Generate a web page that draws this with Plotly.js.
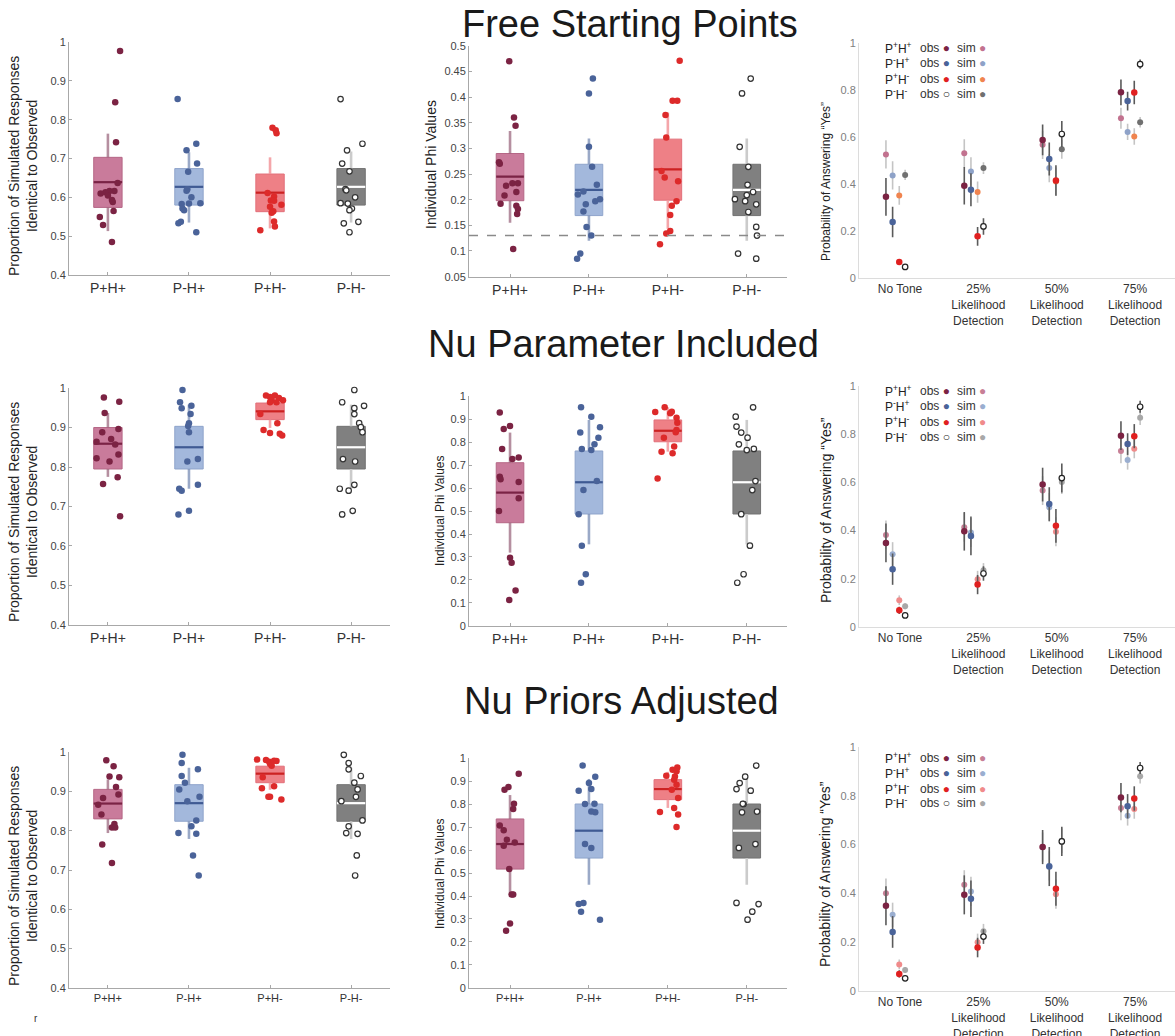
<!DOCTYPE html>
<html><head><meta charset="utf-8">
<script src="https://cdn.plot.ly/plotly-3.0.1.min.js"></script>
<style>body{margin:0;background:#fff}#chart{width:1175px;height:1036px}</style>
</head><body><div id="chart"></div>
<script>
// ---------------- DATA ----------------
const groups = ['P+H+','P-H+','P+H-','P-H-'];
const conditions = ['No Tone','25%<br>Likelihood<br>Detection','50%<br>Likelihood<br>Detection','75%<br>Likelihood<br>Detection'];
const rowTitles = ['Free Starting Points','Nu Parameter Included','Nu Priors Adjusted'];
const legendLabels = ['P<sup>+</sup>H<sup>+</sup>','P<sup>-</sup>H<sup>+</sup>','P<sup>+</sup>H<sup>-</sup>','P<sup>-</sup>H<sup>-</sup>'];
const accTitle = 'Proportion of Simulated Responses<br>Identical to Observed';
const phiTitle = 'Individual Phi Values';
const yesTitle = 'Probability of Answering \u201CYes\u201D';
const phiThreshold = 0.13;

// box stats: [lower whisker, q1, median, q3, upper whisker]
// Row 1 (Free Starting Points) - accuracy
const acc1_PpHp = [0.977,0.845,0.742,0.637,0.616,0.616,0.613,0.61,0.605,0.593,0.588,0.565,0.549,0.529,0.485];
const acc1_PpHp_jit = [0.15,0.09,0.10,0.12,0.08,0.02,-0.03,-0.09,0.0,0.05,0.06,0.07,-0.10,-0.06,0.05];
const acc1_PpHp_box = [0.513,0.574,0.639,0.703,0.764];
const acc1_PmHp = [0.853,0.738,0.721,0.687,0.666,0.621,0.617,0.6,0.585,0.584,0.583,0.571,0.567,0.537,0.533,0.51];
const acc1_PmHp_jit = [-0.14,0.09,-0.03,0.10,-0.01,-0.02,-0.03,0.03,0.14,0.0,-0.09,-0.08,-0.06,-0.10,-0.13,0.09];
const acc1_PmHp_box = [0.535,0.58,0.627,0.674,0.716];
const acc1_PpHm = [0.779,0.773,0.765,0.611,0.602,0.592,0.591,0.581,0.576,0.564,0.56,0.538,0.525,0.515];
const acc1_PpHm_jit = [0.03,0.07,0.08,-0.03,0.05,0.01,0.05,0.14,0.0,0.04,0.02,0.05,0.06,-0.12];
const acc1_PpHm_box = [0.52,0.563,0.612,0.66,0.703];
const acc1_PmHm = [0.853,0.738,0.721,0.687,0.667,0.621,0.618,0.6,0.585,0.584,0.571,0.567,0.537,0.533,0.51];
const acc1_PmHm_jit = [-0.13,0.14,-0.05,-0.11,-0.02,-0.07,-0.06,0.05,-0.13,-0.04,0.01,-0.02,0.09,-0.09,-0.02];
const acc1_PmHm_box = [0.535,0.58,0.627,0.674,0.718];

// Row 1 - phi
const phi1_PpHp = [0.47,0.36,0.344,0.273,0.27,0.227,0.232,0.232,0.215,0.208,0.192,0.188,0.182,0.172,0.104];
const phi1_PpHp_jit = [-0.01,0.05,0.07,-0.14,-0.13,-0.05,0.03,0.10,0.08,-0.07,-0.12,0.08,0.10,0.09,0.04];
const phi1_PpHp_box = [0.155,0.198,0.245,0.29,0.334];
const phi1_PmHp = [0.436,0.407,0.303,0.264,0.229,0.216,0.21,0.201,0.197,0.191,0.177,0.147,0.13,0.095,0.085];
const phi1_PmHp_jit = [0.05,0.0,0.0,0.04,0.10,-0.07,-0.14,0.14,0.08,-0.04,-0.07,-0.03,0.03,-0.11,-0.15];
const phi1_PmHp_box = [0.12,0.169,0.219,0.269,0.319];
const phi1_PpHm = [0.471,0.393,0.393,0.365,0.321,0.256,0.243,0.236,0.197,0.188,0.17,0.139,0.134,0.113];
const phi1_PpHm_jit = [0.15,0.06,0.12,-0.03,-0.02,-0.08,-0.04,0.13,0.11,0.05,0.03,0.03,-0.02,-0.10];
const phi1_PpHm_box = [0.1435,0.199,0.259,0.318,0.37];
const phi1_PmHm = [0.436,0.407,0.303,0.264,0.229,0.215,0.209,0.201,0.197,0.191,0.176,0.147,0.13,0.095,0.085];
const phi1_PmHm_jit = [0.05,-0.06,-0.09,0.02,0.01,0.08,0.0,-0.15,-0.02,0.12,0.02,0.12,0.13,-0.11,0.12];
const phi1_PmHm_box = [0.12,0.169,0.219,0.269,0.319];

// Row 2 (Nu Parameter Included) - accuracy
const acc2_PpHp = [0.976,0.965,0.937,0.888,0.896,0.864,0.871,0.857,0.832,0.822,0.814,0.774,0.757,0.675];
const acc2_PpHp_jit = [-0.05,0.14,-0.04,-0.07,0.13,-0.14,0.04,0.09,0.13,-0.14,0.02,0.12,-0.06,0.15];
const acc2_PpHp_box = [0.775,0.795,0.859,0.9,0.937];
const acc2_PmHp = [0.995,0.964,0.949,0.955,0.934,0.911,0.904,0.888,0.82,0.814,0.755,0.745,0.74,0.689,0.68];
const acc2_PmHp_jit = [-0.08,-0.11,-0.09,0.03,0.02,0.0,-0.01,0.0,0.11,-0.02,0.11,-0.12,-0.09,0.0,-0.13];
const acc2_PmHp_box = [0.745,0.795,0.85,0.903,0.958];
const acc2_PpHm = [0.981,0.981,0.977,0.975,0.969,0.969,0.964,0.964,0.934,0.911,0.894,0.886,0.884,0.88];
const acc2_PpHm_jit = [-0.05,0.06,0.0,0.11,0.02,0.16,0.08,0.0,-0.12,0.09,-0.08,0.0,0.12,0.15];
const acc2_PpHm_box = [0.899,0.92,0.941,0.962,0.981];
const acc2_PmHm = [0.995,0.964,0.949,0.955,0.934,0.911,0.901,0.888,0.82,0.814,0.755,0.745,0.74,0.689,0.68];
const acc2_PmHm_jit = [0.04,-0.11,0.04,0.16,0.04,0.10,0.12,0.14,-0.10,0.05,0.04,-0.14,-0.03,0.02,-0.11];
const acc2_PmHm_box = [0.745,0.795,0.85,0.903,0.958];

// Row 2 - phi
const phi2_PpHp = [0.928,0.87,0.857,0.77,0.733,0.726,0.649,0.638,0.626,0.555,0.5,0.297,0.275,0.154,0.113];
const phi2_PpHp_jit = [-0.13,0.0,-0.08,-0.10,0.11,0.03,-0.13,-0.12,0.11,0.11,-0.14,0.0,0.02,0.07,-0.01];
const phi2_PpHp_box = [0.319,0.449,0.58,0.71,0.841];
const phi2_PmHp = [0.951,0.91,0.841,0.864,0.819,0.79,0.77,0.765,0.63,0.591,0.486,0.349,0.225,0.188];
const phi2_PmHp_jit = [-0.10,0.03,-0.11,0.14,0.12,0.07,-0.09,0.03,0.10,-0.07,-0.13,-0.09,-0.04,-0.10];
const phi2_PmHp_box = [0.355,0.487,0.625,0.761,0.896];
const phi2_PpHm = [0.951,0.93,0.925,0.932,0.906,0.884,0.852,0.843,0.819,0.758,0.781,0.751,0.641];
const phi2_PpHm_jit = [-0.04,-0.16,0.03,0.05,0.11,0.12,0.11,0.10,-0.05,-0.08,0.08,0.06,-0.13];
const phi2_PpHm_box = [0.758,0.801,0.849,0.896,0.951];
const phi2_PmHm = [0.951,0.91,0.867,0.841,0.819,0.79,0.765,0.77,0.63,0.591,0.486,0.349,0.225,0.188];
const phi2_PmHm_jit = [0.08,-0.14,-0.13,-0.07,0.01,-0.10,0.0,0.09,0.11,0.07,-0.07,0.04,-0.04,-0.12];
const phi2_PmHm_box = [0.355,0.487,0.625,0.761,0.896];

// Row 3 (Nu Priors Adjusted) - accuracy
const acc3_PpHp = [0.979,0.964,0.938,0.936,0.911,0.892,0.883,0.866,0.841,0.817,0.808,0.808,0.765,0.718];
const acc3_PpHp_jit = [-0.02,0.07,0.02,0.14,0.10,0.13,-0.06,-0.12,-0.08,0.08,0.05,0.09,-0.07,0.05];
const acc3_PpHp_box = [0.794,0.83,0.869,0.905,0.93];
const acc3_PmHp = [0.993,0.972,0.939,0.922,0.956,0.905,0.886,0.875,0.826,0.811,0.794,0.792,0.737,0.686];
const acc3_PmHp_jit = [-0.08,-0.09,-0.09,-0.05,0.11,-0.12,0.13,-0.02,0.09,0.03,-0.13,0.09,0.05,0.12];
const acc3_PmHp_box = [0.779,0.824,0.87,0.917,0.96];
const acc3_PpHm = [0.981,0.98,0.975,0.97,0.965,0.978,0.977,0.936,0.913,0.908,0.886,0.886,0.879];
const acc3_PpHm_jit = [-0.16,-0.05,-0.01,0.0,0.02,0.05,0.08,-0.09,0.05,-0.10,-0.02,0.0,0.14];
const acc3_PpHm_box = [0.904,0.922,0.945,0.964,0.98];
const acc3_PmHm = [0.993,0.972,0.956,0.939,0.922,0.905,0.886,0.875,0.826,0.811,0.794,0.792,0.737,0.686];
const acc3_PmHm_jit = [-0.09,-0.03,-0.03,0.12,0.04,0.08,0.06,-0.12,0.14,-0.03,-0.06,0.08,0.07,0.05];
const acc3_PmHm_box = [0.779,0.824,0.87,0.917,0.96];

// Row 3 - phi
const phi3_PpHp = [0.932,0.874,0.862,0.801,0.778,0.707,0.686,0.645,0.633,0.619,0.517,0.406,0.406,0.28,0.249];
const phi3_PpHp_jit = [0.11,-0.02,-0.07,0.05,0.04,-0.13,-0.08,-0.04,0.06,-0.08,-0.01,0.02,0.04,0.0,-0.05];
const phi3_PpHp_box = [0.406,0.517,0.626,0.735,0.839];
const phi3_PmHp = [0.967,0.919,0.891,0.865,0.858,0.8,0.801,0.767,0.764,0.626,0.609,0.37,0.365,0.332,0.297];
const phi3_PmHp_jit = [-0.08,0.08,0.0,0.03,-0.13,-0.05,0.07,0.03,0.08,-0.05,0.03,-0.07,-0.13,-0.10,0.14];
const phi3_PmHp_box = [0.449,0.565,0.684,0.8,0.909];
const phi3_PpHm = [0.959,0.949,0.942,0.92,0.923,0.906,0.884,0.862,0.826,0.783,0.765,0.754,0.7];
const phi3_PpHm_jit = [0.12,0.06,0.11,0.09,-0.02,0.08,0.11,0.05,0.13,0.08,-0.10,0.13,0.11];
const phi3_PpHm_box = [0.783,0.819,0.865,0.906,0.94];
const phi3_PmHm = [0.967,0.919,0.891,0.865,0.858,0.8,0.801,0.767,0.764,0.626,0.609,0.37,0.365,0.332,0.297];
const phi3_PmHm_jit = [0.12,-0.02,-0.09,-0.13,0.05,-0.04,-0.05,0.13,-0.06,0.11,-0.10,-0.13,0.15,0.07,0.01];
const phi3_PmHm_box = [0.449,0.565,0.684,0.8,0.909];

// Probability of answering "Yes" : [No Tone, 25%, 50%, 75%]
const yes1_PpHp_obs = [0.345,0.392,0.587,0.789], yes1_PpHp_obsErr = [0.08,0.08,0.065,0.055];
const yes1_PpHp_sim = [0.525,0.53,0.566,0.679],  yes1_PpHp_simErr = [0.06,0.06,0.06,0.045];
const yes1_PmHp_obs = [0.238,0.375,0.506,0.752], yes1_PmHp_obsErr = [0.065,0.07,0.07,0.04];
const yes1_PmHp_sim = [0.436,0.453,0.467,0.621], yes1_PmHp_simErr = [0.06,0.06,0.06,0.035];
const yes1_PpHm_obs = [0.068,0.177,0.414,0.788], yes1_PpHm_obsErr = [0.012,0.04,0.065,0.05];
const yes1_PpHm_sim = [0.351,0.365,0.41,0.601],  yes1_PpHm_simErr = [0.04,0.045,0.06,0.035];
const yes1_PmHm_obs = [0.047,0.219,0.612,0.909], yes1_PmHm_obsErr = [0.006,0.035,0.055,0.02];
const yes1_PmHm_sim = [0.438,0.467,0.547,0.662], yes1_PmHm_simErr = [0.022,0.025,0.04,0.022];

const yes2_PpHp_obs = [0.349,0.397,0.591,0.794], yes2_PpHp_obsErr = [0.08,0.08,0.07,0.06];
const yes2_PpHp_sim = [0.382,0.414,0.566,0.73],  yes2_PpHp_simErr = [0.06,0.06,0.06,0.05];
const yes2_PmHp_obs = [0.24,0.378,0.51,0.759],   yes2_PmHp_obsErr = [0.065,0.08,0.07,0.045];
const yes2_PmHp_sim = [0.302,0.392,0.496,0.693], yes2_PmHp_simErr = [0.05,0.06,0.06,0.04];
const yes2_PpHm_obs = [0.069,0.176,0.42,0.792],  yes2_PpHm_obsErr = [0.015,0.04,0.07,0.05];
const yes2_PpHm_sim = [0.111,0.198,0.395,0.74],  yes2_PpHm_simErr = [0.02,0.035,0.06,0.04];
const yes2_PmHm_obs = [0.048,0.222,0.618,0.914], yes2_PmHm_obsErr = [0.008,0.03,0.06,0.025];
const yes2_PmHm_sim = [0.086,0.235,0.602,0.868], yes2_PmHm_simErr = [0.012,0.03,0.05,0.03];

const yes3_PpHp_obs = [0.349,0.394,0.59,0.793],  yes3_PpHp_obsErr = [0.08,0.08,0.07,0.06];
const yes3_PpHp_sim = [0.401,0.435,0.59,0.75],   yes3_PpHp_simErr = [0.06,0.06,0.06,0.05];
const yes3_PmHp_obs = [0.242,0.378,0.51,0.757],  yes3_PmHp_obsErr = [0.065,0.075,0.08,0.05];
const yes3_PmHp_sim = [0.312,0.408,0.513,0.718], yes3_PmHp_simErr = [0.05,0.06,0.06,0.04];
const yes3_PpHm_obs = [0.07,0.178,0.419,0.789],  yes3_PpHm_obsErr = [0.015,0.04,0.07,0.05];
const yes3_PpHm_sim = [0.109,0.2,0.397,0.746],   yes3_PpHm_simErr = [0.02,0.035,0.06,0.04];
const yes3_PmHm_obs = [0.052,0.223,0.613,0.914], yes3_PmHm_obsErr = [0.008,0.03,0.06,0.025];
const yes3_PmHm_sim = [0.086,0.245,0.616,0.88],  yes3_PmHm_simErr = [0.012,0.03,0.05,0.03];

// ---------------- STYLE ----------------
const FONT = '"Liberation Sans", Arial, Helvetica, sans-serif';
const W = 1175, H = 1036;
const px = v => v / W, py = v => 1 - v / H;
const fillColors = ['#c97b9b','#a3b8dc','#ee8086','#808080'];
const borderColors = ['#b56786','#8fa4cb','#e2707a','#727272'];
const medianColors = ['#7a2345','#3f5a93','#cc2222','#ffffff'];
const whiskerColors = ['rgba(150,95,120,0.7)','rgba(120,140,180,0.75)','rgba(242,150,155,0.85)','rgba(200,200,200,0.95)'];
const pointColors = ['#7b2343','#4a6399','#dd2a2a','#ffffff'];
const obsColors = ['#7b2343','#4a6399','#e02020','#ffffff'];
const simColorsRow = [
  ['#c2728f','#8ea2c8','#f0844f','#707070'],
  ['#c77f96','#9aaed0','#f08b8b','#a8a8a8'],
  ['#c77f96','#9aaed0','#f08b8b','#a8a8a8']
];
const groupOffsets = [-0.18,-0.095,-0.01,0.065];
const BOXW = 0.35;

const colX = [[69,390],[469,787],[859,1175]];
const panelY = [[42,275],[45.7,276.7],[42.7,278],[388,625],[396,626],[386,627],[752,988],[758,988],[747,991]];
const xRanges = [[0.52,4.48],[0.48,4.51],[0.476,4.51]];

const layout = {
  width: W, height: H, margin: {l:0,r:0,t:0,b:0},
  paper_bgcolor: '#ffffff', plot_bgcolor: 'rgba(0,0,0,0)',
  showlegend: false, boxmode: 'overlay',
  font: {family: FONT, color: '#333'},
  annotations: [], shapes: []
};
const traces = [];
const axName = (p, i) => p + (i === 0 ? '' : (i + 1));

function setupAxes(i, cfg) {
  const c = i % 3;
  const xa = axName('xaxis', i), ya = axName('yaxis', i);
  const right = c === 2;
  layout[xa] = {
    domain: [px(colX[c][0]), px(colX[c][1])], anchor: axName('y', i),
    range: xRanges[c], tickvals: [1,2,3,4], ticktext: cfg.cats,
    showline: true, linecolor: right ? '#dcdcdc' : '#a8a8a8', linewidth: 1,
    ticks: right ? '' : 'inside', ticklen: 3, tickcolor: '#a8a8a8',
    showgrid: false, zeroline: false, fixedrange: true,
    tickfont: {size: cfg.catSize, color: '#333', family: FONT}
  };
  layout[ya] = {
    domain: [py(panelY[i][1]), py(panelY[i][0])], anchor: axName('x', i),
    range: [cfg.tick0 - 0.0001, cfg.ytop + 0.0001], dtick: cfg.dtick, tick0: cfg.tick0,
    showline: true, linecolor: right ? '#dcdcdc' : '#a8a8a8', linewidth: 1,
    ticks: right ? '' : 'inside', ticklen: 3, tickcolor: '#a8a8a8',
    showgrid: false, zeroline: false, fixedrange: true,
    tickfont: {size: 11, color: right ? '#808080' : '#444', family: FONT}
  };
  layout.annotations.push({
    xref: 'paper', yref: 'paper', x: px(cfg.titleX), y: py(cfg.titleY),
    text: cfg.title, textangle: -90, showarrow: false,
    xanchor: 'center', yanchor: 'middle',
    font: {size: cfg.titleSize, color: '#222', family: FONT}
  });
}

function boxPanel(i, sets, cfg) {
  setupAxes(i, cfg);
  const xr = axName('x', i), yr = axName('y', i);
  sets.forEach((s, g) => {
    const pos = g + 1;
    const b = s.box;
    traces.push({type:'scatter', mode:'lines', xaxis:xr, yaxis:yr, hoverinfo:'skip',
      x:[pos,pos,null,pos,pos], y:[b[0],b[1],null,b[3],b[4]],
      line:{color:whiskerColors[g], width:2.6}});
    traces.push({type:'box', xaxis:xr, yaxis:yr, hoverinfo:'skip',
      x:[pos], q1:[b[1]], median:[b[2]], q3:[b[3]], lowerfence:[b[1]], upperfence:[b[3]],
      width:BOXW, whiskerwidth:0, boxpoints:false,
      fillcolor:fillColors[g], line:{color:borderColors[g], width:1}});
    traces.push({type:'scatter', mode:'lines', xaxis:xr, yaxis:yr, hoverinfo:'skip',
      x:[pos - BOXW/2, pos + BOXW/2], y:[b[2], b[2]],
      line:{color:medianColors[g], width:2.2}});
    traces.push({type:'scatter', mode:'markers', xaxis:xr, yaxis:yr, cliponaxis:false,
      x: s.vals.map((v, k) => pos + s.jit[k]), y: s.vals,
      marker:{size: g === 3 ? 5.5 : 6.5, color:pointColors[g], line:{color: g === 3 ? '#333' : pointColors[g], width: g === 3 ? 1.2 : 0}}});
  });
}

function yesPanel(i, rowIdx, sets, cfg) {
  setupAxes(i, cfg);
  const xr = axName('x', i), yr = axName('y', i);
  const simColors = simColorsRow[rowIdx];
  sets.forEach((s, g) => {
    const xs = [1,2,3,4].map(c => c + groupOffsets[g]);
    traces.push({type:'scatter', mode:'markers', xaxis:xr, yaxis:yr, cliponaxis:false,
      x: xs, y: s.sim,
      error_y:{type:'data', array:s.simErr, visible:true, color:'#c4c4c4', thickness:1.6, width:0},
      marker:{size:6, color:simColors[g]}});
  });
  sets.forEach((s, g) => {
    const xs = [1,2,3,4].map(c => c + groupOffsets[g]);
    traces.push({type:'scatter', mode:'markers', xaxis:xr, yaxis:yr, cliponaxis:false,
      x: xs, y: s.obs,
      error_y:{type:'data', array:s.obsErr, visible:true, color:'#5a5a5a', thickness:1.6, width:0},
      marker:{size: g === 3 ? 5.5 : 6.5, color:obsColors[g], line:{color: g === 3 ? '#222' : obsColors[g], width: g === 3 ? 1.2 : 0}}});
  });
  // legend as text annotations
  cfg.legendRows.forEach((yy, g) => {
    layout.annotations.push({xref:'paper', yref:'paper', x:px(cfg.legendX), y:py(yy), xanchor:'left', yanchor:'middle', showarrow:false,
      text: legendLabels[g], font:{size:12, color:'#222', family:FONT}});
    const obsGlyph = g === 3 ? '<span style="color:#222">\u25CB</span>' : '<span style="color:' + obsColors[g] + '">\u25CF</span>';
    layout.annotations.push({xref:'paper', yref:'paper', x:px(cfg.legendX + 35), y:py(yy), xanchor:'left', yanchor:'middle', showarrow:false,
      text: 'obs ' + obsGlyph, font:{size:12, color:'#333', family:FONT}});
    layout.annotations.push({xref:'paper', yref:'paper', x:px(cfg.legendX + 72), y:py(yy), xanchor:'left', yanchor:'middle', showarrow:false,
      text: 'sim <span style="color:' + simColors[g] + '">\u25CF</span>', font:{size:12, color:'#333', family:FONT}});
  });
}

// ---------------- BUILD ----------------
const accCfg = (titleY, catSize) => ({cats: groups, catSize, tick0:0.4, ytop:1, dtick:0.1, title: accTitle, titleX:23, titleY, titleSize:14});

boxPanel(0, [
  {vals:acc1_PpHp, jit:acc1_PpHp_jit, box:acc1_PpHp_box},
  {vals:acc1_PmHp, jit:acc1_PmHp_jit, box:acc1_PmHp_box},
  {vals:acc1_PpHm, jit:acc1_PpHm_jit, box:acc1_PpHm_box},
  {vals:acc1_PmHm, jit:acc1_PmHm_jit, box:acc1_PmHm_box}], accCfg(166, 14));
boxPanel(1, [
  {vals:phi1_PpHp, jit:phi1_PpHp_jit, box:phi1_PpHp_box},
  {vals:phi1_PmHp, jit:phi1_PmHp_jit, box:phi1_PmHp_box},
  {vals:phi1_PpHm, jit:phi1_PpHm_jit, box:phi1_PpHm_box},
  {vals:phi1_PmHm, jit:phi1_PmHm_jit, box:phi1_PmHm_box}],
  {cats:groups, catSize:14, tick0:0.05, ytop:0.5, dtick:0.05, title:phiTitle, titleX:431, titleY:165, titleSize:14});
layout.shapes.push({type:'line', xref:'x2 domain', yref:'y2', x0:0, x1:1, y0:phiThreshold, y1:phiThreshold,
  line:{color:'#8a8a8a', width:1.5, dash:'dash'}});
yesPanel(2, 0, [
  {obs:yes1_PpHp_obs, obsErr:yes1_PpHp_obsErr, sim:yes1_PpHp_sim, simErr:yes1_PpHp_simErr},
  {obs:yes1_PmHp_obs, obsErr:yes1_PmHp_obsErr, sim:yes1_PmHp_sim, simErr:yes1_PmHp_simErr},
  {obs:yes1_PpHm_obs, obsErr:yes1_PpHm_obsErr, sim:yes1_PpHm_sim, simErr:yes1_PpHm_simErr},
  {obs:yes1_PmHm_obs, obsErr:yes1_PmHm_obsErr, sim:yes1_PmHm_sim, simErr:yes1_PmHm_simErr}],
  {cats:conditions, catSize:12, tick0:0, ytop:1, dtick:0.2, title:yesTitle, titleX:826, titleY:181, titleSize:12,
   legendX:883, legendRows:[48,63,79,94]});

boxPanel(3, [
  {vals:acc2_PpHp, jit:acc2_PpHp_jit, box:acc2_PpHp_box},
  {vals:acc2_PmHp, jit:acc2_PmHp_jit, box:acc2_PmHp_box},
  {vals:acc2_PpHm, jit:acc2_PpHm_jit, box:acc2_PpHm_box},
  {vals:acc2_PmHm, jit:acc2_PmHm_jit, box:acc2_PmHm_box}], accCfg(512, 14));
boxPanel(4, [
  {vals:phi2_PpHp, jit:phi2_PpHp_jit, box:phi2_PpHp_box},
  {vals:phi2_PmHp, jit:phi2_PmHp_jit, box:phi2_PmHp_box},
  {vals:phi2_PpHm, jit:phi2_PpHm_jit, box:phi2_PpHm_box},
  {vals:phi2_PmHm, jit:phi2_PmHm_jit, box:phi2_PmHm_box}],
  {cats:groups, catSize:14, tick0:0, ytop:1, dtick:0.1, title:phiTitle, titleX:440, titleY:511, titleSize:12});
yesPanel(5, 1, [
  {obs:yes2_PpHp_obs, obsErr:yes2_PpHp_obsErr, sim:yes2_PpHp_sim, simErr:yes2_PpHp_simErr},
  {obs:yes2_PmHp_obs, obsErr:yes2_PmHp_obsErr, sim:yes2_PmHp_sim, simErr:yes2_PmHp_simErr},
  {obs:yes2_PpHm_obs, obsErr:yes2_PpHm_obsErr, sim:yes2_PpHm_sim, simErr:yes2_PpHm_simErr},
  {obs:yes2_PmHm_obs, obsErr:yes2_PmHm_obsErr, sim:yes2_PmHm_sim, simErr:yes2_PmHm_simErr}],
  {cats:conditions, catSize:12, tick0:0, ytop:1, dtick:0.2, title:yesTitle, titleX:826, titleY:510, titleSize:14,
   legendX:883, legendRows:[391,406,422,437]});

boxPanel(6, [
  {vals:acc3_PpHp, jit:acc3_PpHp_jit, box:acc3_PpHp_box},
  {vals:acc3_PmHp, jit:acc3_PmHp_jit, box:acc3_PmHp_box},
  {vals:acc3_PpHm, jit:acc3_PpHm_jit, box:acc3_PpHm_box},
  {vals:acc3_PmHm, jit:acc3_PmHm_jit, box:acc3_PmHm_box}], accCfg(876, 11));
boxPanel(7, [
  {vals:phi3_PpHp, jit:phi3_PpHp_jit, box:phi3_PpHp_box},
  {vals:phi3_PmHp, jit:phi3_PmHp_jit, box:phi3_PmHp_box},
  {vals:phi3_PpHm, jit:phi3_PpHm_jit, box:phi3_PpHm_box},
  {vals:phi3_PmHm, jit:phi3_PmHm_jit, box:phi3_PmHm_box}],
  {cats:groups, catSize:11, tick0:0, ytop:1, dtick:0.1, title:phiTitle, titleX:440, titleY:874, titleSize:12});
yesPanel(8, 2, [
  {obs:yes3_PpHp_obs, obsErr:yes3_PpHp_obsErr, sim:yes3_PpHp_sim, simErr:yes3_PpHp_simErr},
  {obs:yes3_PmHp_obs, obsErr:yes3_PmHp_obsErr, sim:yes3_PmHp_sim, simErr:yes3_PmHp_simErr},
  {obs:yes3_PpHm_obs, obsErr:yes3_PpHm_obsErr, sim:yes3_PpHm_sim, simErr:yes3_PpHm_simErr},
  {obs:yes3_PmHm_obs, obsErr:yes3_PmHm_obsErr, sim:yes3_PmHm_sim, simErr:yes3_PmHm_simErr}],
  {cats:conditions, catSize:12, tick0:0, ytop:1, dtick:0.2, title:yesTitle, titleX:825, titleY:874, titleSize:14,
   legendX:883, legendRows:[758,773,789,803]});

// row titles
const titleYs = [24, 344, 701];
const titleXs = [630, 624, 621];
rowTitles.forEach((t, r) => layout.annotations.push({
  xref:'paper', yref:'paper', x:px(titleXs[r]), y:py(titleYs[r]), xanchor:'center', yanchor:'middle',
  showarrow:false, text:t, font:{size:38, color:'#1a1a1a', family:FONT}
}));
// stray mark at bottom-left of the original figure
layout.annotations.push({xref:'paper', yref:'paper', x:px(36), y:py(1018), xanchor:'center', yanchor:'middle',
  showarrow:false, text:'r', font:{size:10, color:'#333', family:FONT}});

Plotly.newPlot('chart', traces, layout, {staticPlot:true, displayModeBar:false});
</script>
</body></html>
